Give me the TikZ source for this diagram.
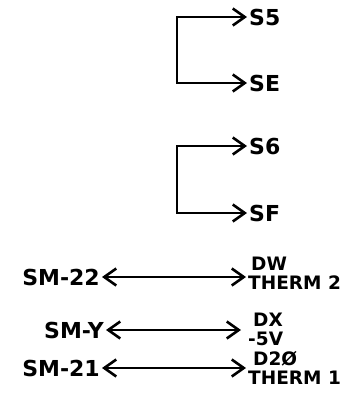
\documentclass[tikz,border=0pt]{standalone}
\usepackage{fontspec}
\setmainfont{DejaVu Sans}
\usetikzlibrary{arrows.meta}
\tikzset{
  barb/.tip={Straight Barb[length=12pt,width=17pt,line width=2.6pt]},
  wire/.style={line width=2pt, barb-barb},
  bus/.style={line width=2pt, barb-barb},
  sig/.style={anchor=west, inner sep=2pt, font=\fontsize{22}{22}\selectfont\bfseries},
  pinlabel/.style={anchor=east, inner sep=2pt, font=\fontsize{22}{22}\selectfont\bfseries},
  term/.style={anchor=west, inner sep=2pt, align=left, font=\fontsize{18.5}{19}\selectfont\bfseries}
}
\begin{document}
\begin{tikzpicture}[x=1pt,y=-1pt]
  \useasboundingbox (0,0) rectangle (360,402);
  %%%%% START %%%%%
  \node[sig] (s5) at (247,17) {S5};
  \node[sig] (se) at (247,83) {SE};
  \coordinate (k1) at (177,17);
  \draw[wire] (s5.west) -- (k1) |- (se.west);

  \node[sig] (s6) at (247,146) {S6};
  \node[sig] (sf) at (247,213) {SF};
  \coordinate (k2) at (177,146);
  \draw[wire] (s6.west) -- (k2) |- (sf.west);

  \node[pinlabel] (sm22) at (102,277) {SM-22};
  \node[term] (dw) at (246,273) {\hspace{3pt}DW\\THERM 2};
  \draw[bus] (sm22) -- (sm22 -| dw.west);

  \node[pinlabel] (smy) at (106,330) {SM-Y};
  \node[term] (dx) at (246,329) {\hspace{5pt}DX\\-5V};
  \draw[bus, shorten >=5pt] (smy) -- (smy -| dx.west);

  \node[pinlabel] (sm21) at (102,368) {SM-21};
  \node[term] (d20) at (246,368) {\hspace{5pt}D2Ø\\THERM 1};
  \draw[bus] (sm21) -- (sm21 -| d20.west);
  %%%%% END %%%%%
\end{tikzpicture}
\end{document}
